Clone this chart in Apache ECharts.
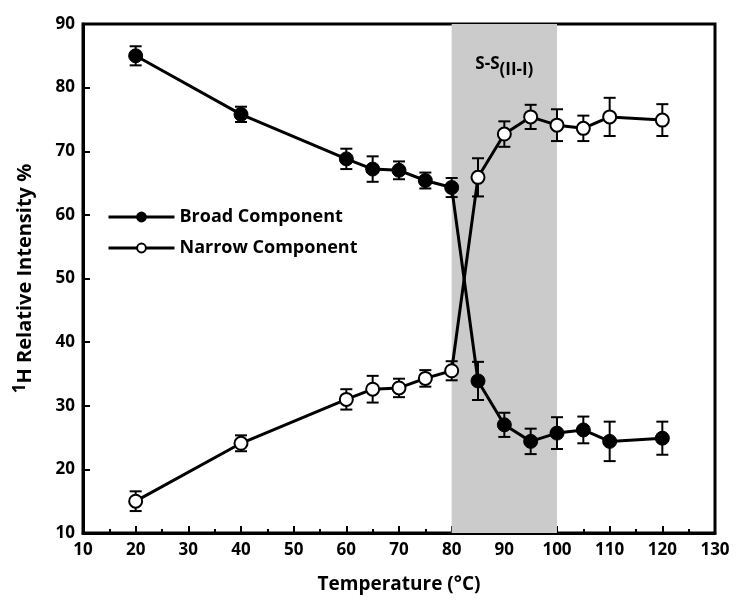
<!DOCTYPE html>
<html><head><meta charset="utf-8">
<script src="https://cdn.jsdelivr.net/npm/echarts@6/dist/echarts.min.js"></script>
<style>html,body{margin:0;padding:0;background:#fff}#c{width:738px;height:608px}</style>
</head><body><div id="c"></div>
<script>
const temps = [20, 40, 60, 65, 70, 75, 80, 85, 90, 95, 100, 105, 110, 120];
const broad = [85.0, 75.8, 68.8, 67.2, 67.0, 65.4, 64.3, 33.9, 27.0, 24.4, 25.7, 26.2, 24.4, 24.9];
const broadErr = [1.5, 1.2, 1.6, 2.0, 1.4, 1.25, 1.5, 3.0, 1.9, 2.0, 2.5, 2.1, 3.1, 2.6];
const narrow = [15.0, 24.1, 31.0, 32.6, 32.8, 34.3, 35.5, 65.9, 72.7, 75.4, 74.1, 73.6, 75.4, 74.9];
const narrowErr = [1.55, 1.25, 1.6, 2.1, 1.45, 1.3, 1.5, 3.0, 2.0, 1.9, 2.5, 2.0, 3.0, 2.5];
const shadeRange = [80, 100];
const FONT = 'Open Sans';

function errData(vals, errs) {
  return temps.map((t, i) => [t, vals[i] - errs[i], vals[i] + errs[i]]);
}
function errRender(params, api) {
  const x = api.value(0);
  const lo = api.coord([x, api.value(1)]);
  const hi = api.coord([x, api.value(2)]);
  const w = 6;
  const st = {stroke: '#000', lineWidth: 2};
  return {type: 'group', children: [
    {type: 'line', shape: {x1: lo[0], y1: lo[1], x2: hi[0], y2: hi[1]}, style: st},
    {type: 'line', shape: {x1: lo[0]-w, y1: lo[1], x2: lo[0]+w, y2: lo[1]}, style: st},
    {type: 'line', shape: {x1: hi[0]-w, y1: hi[1], x2: hi[0]+w, y2: hi[1]}, style: st}
  ]};
}

const chart = echarts.init(document.getElementById('c'));
chart.setOption({
  animation: false,
  textStyle: {fontFamily: FONT},
  grid: {left: 83, right: 23, top: 24, bottom: 75, show: true, borderColor: '#000', borderWidth: 3, backgroundColor: 'transparent'},
  legend: {
    left: 102, top: 203, orient: 'vertical', itemWidth: 66, itemHeight: 11, itemGap: 13,
    lineStyle: {width: 3, color: '#000'},
    textStyle: {fontFamily: FONT, fontWeight: 'bold', fontSize: 18, color: '#000'},
    data: ['Broad Component', 'Narrow Component']
  },
  xAxis: {
    type: 'value', min: 10, max: 130, interval: 10,
    name: 'Temperature (°C)', nameLocation: 'middle', nameGap: 42,
    nameTextStyle: {fontFamily: FONT, fontWeight: 'bold', fontSize: 19, color: '#000'},
    axisLine: {show: true, lineStyle: {color: '#000', width: 3}},
    axisTick: {show: true, inside: true, length: 7, lineStyle: {color: '#000', width: 2}},
    minorTick: {show: true, splitNumber: 2, length: 4, lineStyle: {color: '#000', width: 2}},
    splitLine: {show: false},
    axisLabel: {fontFamily: FONT, fontWeight: 'bold', fontSize: 17, color: '#000', margin: 9}
  },
  yAxis: {
    type: 'value', min: 10, max: 90, interval: 10,
    name: '{sup|1}H Relative Intensity %', nameLocation: 'middle', nameGap: 44,
    nameTextStyle: {fontFamily: FONT, fontWeight: 'bold', fontSize: 20, color: '#000',
      rich: {sup: {fontFamily: FONT, fontWeight: 'bold', fontSize: 17, color: '#000', padding: [0, 0, 10, 0]}}},
    axisLine: {show: true, lineStyle: {color: '#000', width: 3}},
    axisTick: {show: true, inside: true, length: 7, lineStyle: {color: '#000', width: 2}},
    splitLine: {show: false},
    axisLabel: {fontFamily: FONT, fontWeight: 'bold', fontSize: 17, color: '#000', margin: 8}
  },
  series: [
    {
      name: 'shade', type: 'line', data: [], silent: true, z: 0,
      markArea: {
        silent: true,
        itemStyle: {color: '#cbcbcb'},
        label: {show: true, position: 'insideTop', distance: 26,
          formatter: '{a|S-S}{b|(II-I)}',
          rich: {
            a: {fontFamily: FONT, fontWeight: 'bold', fontSize: 17, color: '#000'},
            b: {fontFamily: FONT, fontWeight: 'bold', fontSize: 17, color: '#000', padding: [12, 0, 0, 0]}
          }},
        data: [[{xAxis: shadeRange[0], yAxis: 10}, {xAxis: shadeRange[1], yAxis: 90}]]
      }
    },
    {type: 'custom', renderItem: errRender, data: errData(broad, broadErr), z: 3, silent: true},
    {type: 'custom', renderItem: errRender, data: errData(narrow, narrowErr), z: 3, silent: true},
    {
      name: 'Broad Component', type: 'line', z: 5,
      data: temps.map((t, i) => [t, broad[i]]),
      symbol: 'circle', symbolSize: 14,
      lineStyle: {color: '#000', width: 3},
      itemStyle: {color: '#000', borderColor: '#000', borderWidth: 1}
    },
    {
      name: 'Narrow Component', type: 'line', z: 5,
      data: temps.map((t, i) => [t, narrow[i]]),
      symbol: 'circle', symbolSize: 13,
      lineStyle: {color: '#000', width: 3},
      itemStyle: {color: '#fff', borderColor: '#000', borderWidth: 2}
    }
  ]
});
</script>
</body></html>
